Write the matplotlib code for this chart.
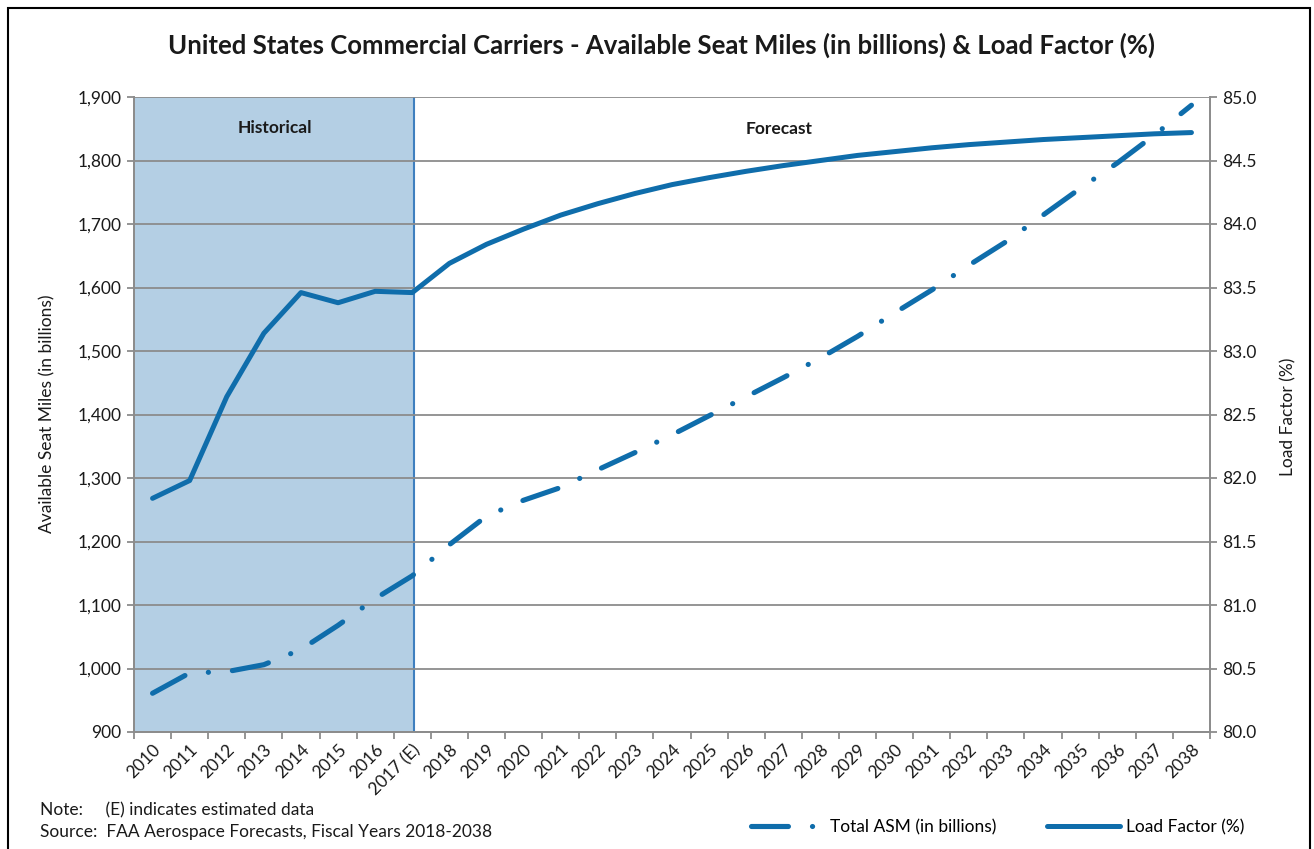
import matplotlib
matplotlib.use("Agg")
import matplotlib.pyplot as plt
from matplotlib.patches import Rectangle
from matplotlib.ticker import FuncFormatter, FixedLocator

plt.rcParams['font.family'] = ['Lato', 'DejaVu Sans']
plt.rcParams['lines.scale_dashes'] = False

years = ['2010', '2011', '2012', '2013', '2014', '2015', '2016', '2017 (E)',
         '2018', '2019', '2020', '2021', '2022', '2023', '2024', '2025', '2026',
         '2027', '2028', '2029', '2030', '2031', '2032', '2033', '2034', '2035',
         '2036', '2037', '2038']

asm = [961, 993, 995, 1006, 1030, 1068, 1110, 1146,
       1195, 1240, 1265, 1285, 1313, 1340, 1368, 1398, 1428,
       1458, 1489, 1523, 1560, 1596, 1635, 1672, 1714, 1756,
       1796, 1840, 1887]

load_factor = [81.84, 81.98, 82.64, 83.14, 83.46, 83.38, 83.47, 83.46,
               83.69, 83.84, 83.96, 84.07, 84.16, 84.24, 84.31, 84.365, 84.415,
               84.46, 84.50, 84.54, 84.57, 84.60, 84.625, 84.645, 84.665, 84.68,
               84.695, 84.71, 84.72]

left_ticks = list(range(900, 2000, 100))
right_ticks = [80.0, 80.5, 81.0, 81.5, 82.0, 82.5, 83.0, 83.5, 84.0, 84.5, 85.0]

BLUE = '#0F6DAB'
SHADE = '#B4CFE4'
GRID = '#8C8C8C'
TXT = '#1A1A1A'
FS = 12.5

W, H = 1314, 849
fig = plt.figure(figsize=(W / 100, H / 100), dpi=100)
ax = fig.add_axes([134 / W, 1 - 732 / H, (1210 - 134) / W, (732 - 97) / H])
ax2 = ax.twinx()

x = list(range(len(years)))
n = len(years)

# historical shading
ax.axvspan(-0.5, 7.05, color=SHADE, zorder=0, lw=0)
ax.axvline(7.05, color='#3F7FBF', lw=1.5, zorder=1)

ax.set_xlim(-0.5, n - 0.5)
ax.set_ylim(900, 1900)
ax2.set_ylim(80, 85)

ax.set_yticks(left_ticks)
ax.yaxis.set_major_formatter(FuncFormatter(lambda v, p: f"{int(v):,}"))
ax2.set_yticks(right_ticks)
ax2.yaxis.set_major_formatter(FuncFormatter(lambda v, p: f"{v:.1f}"))

ax.grid(axis='y', color=GRID, lw=1.3, zorder=1)
ax.set_axisbelow(False)

ax.set_xticks(x)
ax.set_xticklabels(years, rotation=45, ha='right', rotation_mode='anchor', fontsize=FS, color=TXT)
ax.tick_params(axis='x', which='major', length=0, pad=7)
ax.xaxis.set_minor_locator(FixedLocator([i - 0.5 for i in range(n + 1)]))
ax.tick_params(axis='x', which='minor', length=5, color=GRID, width=1.3)
ax.tick_params(axis='y', length=5, color=GRID, width=1.3, labelsize=FS, labelcolor=TXT, pad=4)
ax2.tick_params(axis='y', length=5, color=GRID, width=1.3, labelsize=FS, labelcolor=TXT, pad=4)

for a in (ax, ax2):
    a.spines['top'].set_visible(False)
    for s in ('left', 'right', 'bottom'):
        a.spines[s].set_color(GRID)
        a.spines[s].set_linewidth(1.3)

# lines
l1, = ax.plot(x, asm, color=BLUE, lw=3.7, solid_capstyle='round',
              dash_capstyle='round', zorder=3, label='Total ASM (in billions)')
l1.set_dashes((26.6, 17.3, 0.1, 17.3))
l2, = ax2.plot(x, load_factor, color=BLUE, lw=3.6, solid_capstyle='round',
               solid_joinstyle='round', zorder=3, label='Load Factor (%)')
ax2.set_zorder(ax.get_zorder() + 1)
ax2.patch.set_visible(False)

ax.text(3.3, 1851, 'Historical', fontsize=FS, fontweight='bold', ha='center', va='center', color=TXT)
ax.text(16.9, 1850, 'Forecast', fontsize=FS, fontweight='bold', ha='center', va='center', color=TXT)

fig.text(47 / W, 1 - 414 / H, 'Available Seat Miles (in billions)', rotation=90,
         fontsize=FS, color=TXT, ha='center', va='center')
fig.text(1288 / W, 1 - 417 / H, 'Load Factor (%)', rotation=90,
         fontsize=FS, color=TXT, ha='center', va='center')

fig.text(662 / W, 1 - 45 / H,
         'United States Commercial Carriers - Available Seat Miles (in billions) & Load Factor (%)',
         fontsize=18.5, fontweight='bold', ha='center', va='center', color=TXT)

fig.text(40 / W, 1 - 810 / H, 'Note:     (E) indicates estimated data', fontsize=FS, color=TXT, va='center')
fig.text(40 / W, 1 - 832 / H, 'Source:  FAA Aerospace Forecasts, Fiscal Years 2018-2038', fontsize=FS, color=TXT, va='center')

fig.legend(handles=[l1, l2], loc='center left', bbox_to_anchor=(751 / W, 1 - 827 / H), ncol=2,
           frameon=False, fontsize=FS, handlelength=4.2, columnspacing=2.9, handletextpad=0.35,
           borderpad=0, borderaxespad=0)

# chart border
fig.patches.append(Rectangle((8 / W, -0.01), (1310 - 8) / W, 1 - 8 / H + 0.01,
                             transform=fig.transFigure, fill=False, ec='black', lw=1.5))

fig.savefig('out.png', dpi=100)
